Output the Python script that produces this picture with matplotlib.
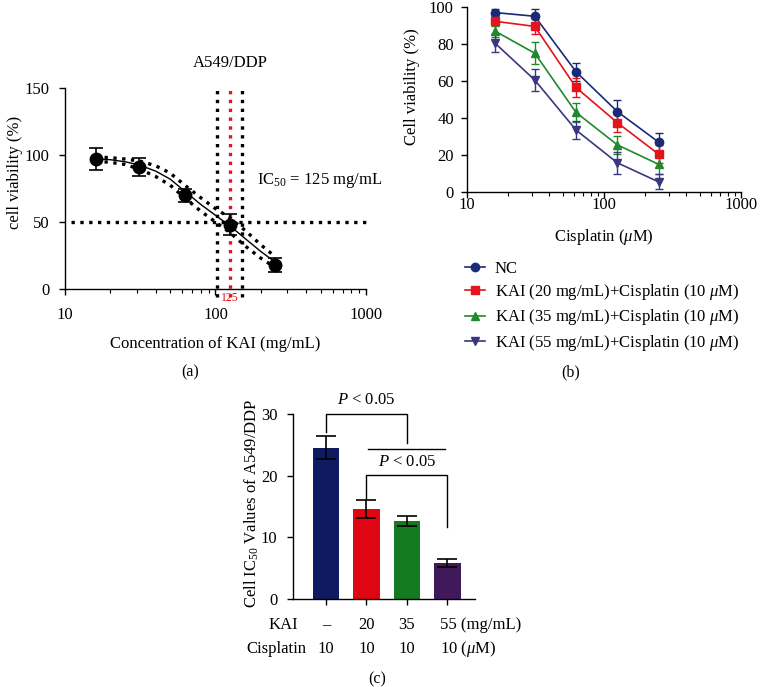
import matplotlib

matplotlib.use("Agg")
import matplotlib.pyplot as plt
from matplotlib.ticker import LogLocator, NullFormatter, FixedLocator

plt.rcParams["font.family"] = ["Liberation Serif", "DejaVu Serif"]
plt.rcParams["mathtext.fontset"] = "custom"
plt.rcParams["mathtext.rm"] = "Liberation Serif"
plt.rcParams["mathtext.it"] = "Liberation Serif:italic"
plt.rcParams["font.size"] = 12
plt.rcParams["axes.linewidth"] = 1.0

# ---- panel (a): KAI dose response ----
kai_conc = [16, 31.25, 62.5, 125, 250]
kai_via = [97, 91, 70, 48, 18]
kai_err = [8, 7, 5, 8, 5]
fit_x = [16, 20, 25, 31.25, 40, 50, 62.5, 80, 100, 125, 160, 200, 250]
fit_y = [97, 96.5, 95, 92.5, 88, 82, 73, 63, 55, 47, 37, 28, 20]
fit_hi = [98.5, 98, 97, 95.5, 92, 86.5, 77.5, 68, 60, 53, 43, 33, 24]
fit_lo = [95.5, 94.5, 93, 89.5, 84, 77.5, 68, 58, 50, 42, 31.5, 23, 16]
ic50 = 125
ic50_lo, ic50_hi = 102, 150

# ---- panel (b): cisplatin dose response ----
cis_conc = [16, 31.25, 62.5, 125, 250]
groups = ["NC",
          "KAI (20 mg/mL)+Cisplatin (10 $\\mu$M)",
          "KAI (35 mg/mL)+Cisplatin (10 $\\mu$M)",
          "KAI (55 mg/mL)+Cisplatin (10 $\\mu$M)"]
group_via = [[97, 95, 65, 43.5, 27],
             [92.3, 89.5, 56.5, 37.5, 20.5],
             [87, 75, 43, 25.5, 15],
             [80.5, 60.5, 33.5, 15.8, 5.5]]
group_err = [[2, 4, 5, 6, 5],
             [2, 4, 5, 5, 5],
             [3, 6, 5, 5, 5],
             [5, 6, 5, 6, 4]]
group_colors = ["#1b2a78", "#e3141c", "#1f8a2c", "#3b3680"]
group_markers = ["o", "s", "^", "v"]

# ---- panel (c): IC50 bars ----
bar_kai = ["–", "20", "35", "55"]
bar_cis = ["10", "10", "10", "10"]
bar_ic50 = [24.6, 14.6, 12.7, 5.85]
bar_err = [1.8, 1.45, 0.8, 0.7]
bar_colors = ["#0f1b60", "#df0613", "#137a22", "#40195a"]

fig = plt.figure(figsize=(7.6, 6.87), dpi=100)


def style(ax, ypad):
    ax.spines["top"].set_visible(False)
    ax.spines["right"].set_visible(False)
    ax.tick_params(direction="out", length=4.5, width=1)
    ax.tick_params(which="minor", direction="out", length=3, width=0.8)
    ax.tick_params(axis="y", pad=ypad)


# (a)
ax1 = fig.add_axes([0.0855, 0.5793, 0.3961, 0.2926])
style(ax1, 6.5)
ax1.set_xscale("log")
ax1.set_xlim(10, 1000)
ax1.set_ylim(0, 150)
ax1.set_yticks([0, 50, 100, 150])
ax1.xaxis.set_minor_locator(LogLocator(base=10, subs=range(2, 10)))
ax1.xaxis.set_minor_formatter(NullFormatter())
ax1.set_xticks([10, 100, 1000])
ax1.set_xticklabels(["10", "100", "1000"])
ax1.tick_params(axis="x", pad=8.5)
ax1.plot([11, 1000], [50, 50], color="black", ls=":", lw=2.4, clip_on=False)
for xv, col in [(ic50_lo, "black"), (ic50_hi, "black"), (ic50, "#e3141c")]:
    ax1.plot([xv, xv], [-6, 150], color=col, ls=":", lw=2.4, clip_on=False)
ax1.plot(fit_x, fit_hi, color="black", ls=":", lw=2.4)
ax1.plot(fit_x, fit_lo, color="black", ls=":", lw=2.4)
ax1.plot(fit_x, fit_y, color="black", lw=1.0)
ax1.errorbar(kai_conc, kai_via, yerr=kai_err, fmt="o", color="black",
             ms=9, capsize=5, elinewidth=1.2, capthick=1.2, clip_on=False)
ax1.text(ic50, -6.5, "125", color="#e3141c", fontsize=8.5, ha="center", va="center")
ax1.text(ic50, 169, "A549/DDP", ha="center", va="center")
ax1.text(189, 81, "IC$_{50}$ = 125 mg/mL", ha="left", va="center")
ax1.set_ylabel("cell viability (%)")
ax1.yaxis.set_label_coords(-0.139, 0.58)
ax1.set_xlabel("Concentration of KAI (mg/mL)", labelpad=9)

# (b)
ax2 = fig.add_axes([0.6145, 0.7205, 0.3605, 0.2693])
style(ax2, 5)
ax2.set_xscale("log")
ax2.set_xlim(10, 1000)
ax2.set_ylim(0, 100)
ax2.set_yticks(range(0, 101, 20))
ax2.xaxis.set_minor_locator(LogLocator(base=10, subs=range(2, 10)))
ax2.xaxis.set_minor_formatter(NullFormatter())
ax2.set_xticks([10, 100, 1000])
ax2.set_xticklabels(["10", "100", "1000"])
ax2.tick_params(axis="x", pad=-1)
for name, via, err, col, mk in zip(groups, group_via, group_err, group_colors, group_markers):
    ax2.errorbar(cis_conc, via, yerr=err, color=col, marker=mk, ms=6, lw=1.2,
                 capsize=3, elinewidth=1.0, capthick=1.0, label=name, clip_on=False)
ax2.set_ylabel("Cell viability (%)")
ax2.yaxis.set_label_coords(-0.172, 0.568)
ax2.set_xlabel("Cisplatin ($\\mu$M)", labelpad=10.5)
handles, labels = ax2.get_legend_handles_labels()
handles = [h[0] for h in handles]
fig.legend(handles, labels, loc="upper left", bbox_to_anchor=(0.6118, 0.620),
           frameon=False, handlelength=1.2, labelspacing=0.31, handletextpad=0.6,
           borderpad=0, borderaxespad=0)

# (c)
ax3 = fig.add_axes([0.3851, 0.1281, 0.2399, 0.2688])
style(ax3, 6.5)
pos = list(range(len(bar_ic50)))
ax3.bar(pos, bar_ic50, width=0.66, color=bar_colors)
ax3.errorbar(pos, bar_ic50, yerr=bar_err, fmt="none", ecolor="black",
             capsize=7, elinewidth=1.2, capthick=1.2)
ax3.set_xlim(-0.82, 3.68)
ax3.set_ylim(0, 30)
ax3.set_yticks([0, 10, 20, 30])
ax3.xaxis.set_major_locator(FixedLocator(pos))
ax3.set_xticklabels([])
ax3.set_ylabel("Cell IC$_{50}$ Values of A549/DDP")
ax3.yaxis.set_label_coords(-0.174, 0.52)
ax3.plot([0, 0, 2, 2], [27.2, 30, 30, 25.3], color="black", lw=1.0, clip_on=False)
ax3.text(1, 32.4, "$\\it{P}$ < 0.05", ha="center", va="center")
ax3.plot([1.05, 2.95], [24.3, 24.3], color="black", lw=1.0)
ax3.text(2, 22.2, "$\\it{P}$ < 0.05", ha="center", va="center")
ax3.plot([1, 1, 3, 3], [16.4, 20.1, 20.1, 11.7], color="black", lw=1.0)
tr = ax3.get_xaxis_transform()
for i in pos:
    if i == 3:
        ax3.annotate(bar_kai[i] + " (mg/mL)", (i, -0.14), xycoords=tr,
                     xytext=(-5.5, 0), textcoords="offset points", ha="left", va="center")
        ax3.annotate(bar_cis[i] + " ($\\mu$M)", (i, -0.27), xycoords=tr,
                     xytext=(-5.5, 0), textcoords="offset points", ha="left", va="center")
    else:
        ax3.text(i, -0.14, bar_kai[i], transform=tr, ha="center", va="center")
        ax3.text(i, -0.27, bar_cis[i], transform=tr, ha="center", va="center")
ax3.text(-0.69, -0.14, "KAI", transform=tr, ha="right", va="center")
ax3.text(-0.49, -0.27, "Cisplatin", transform=tr, ha="right", va="center")

fig.text(0.25, 0.4585, "(a)", ha="center", va="center", fontsize=11.5)
fig.text(0.751, 0.4585, "(b)", ha="center", va="center", fontsize=11.5)
fig.text(0.496, 0.0116, "(c)", ha="center", va="center", fontsize=11.5)

fig.savefig("out.png", dpi=100)
